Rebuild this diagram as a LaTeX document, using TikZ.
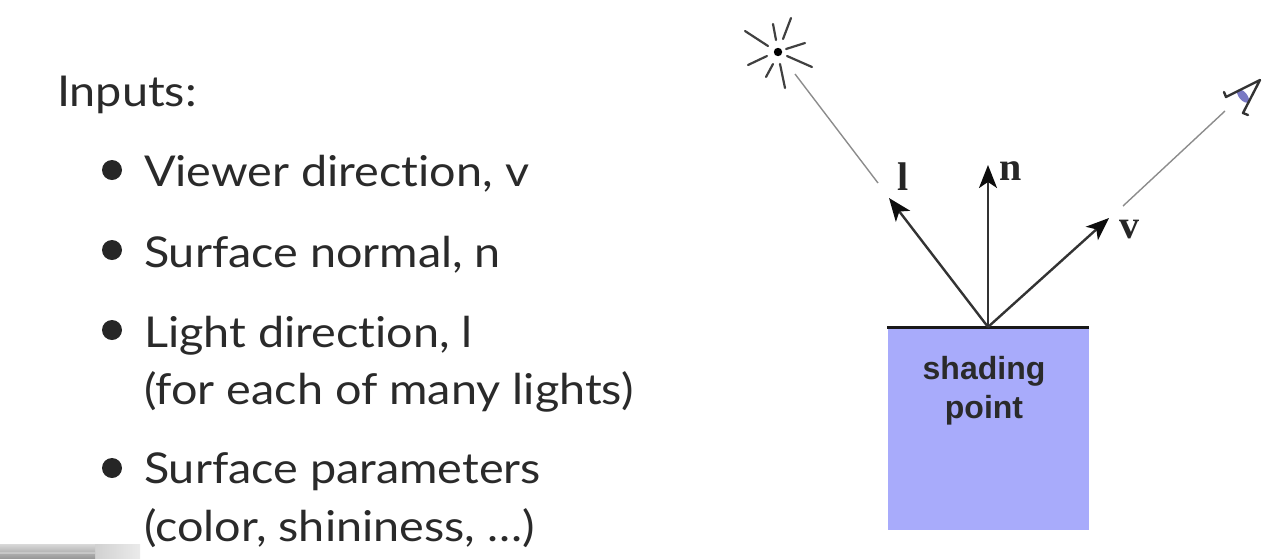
\documentclass[tikz,border=0pt]{standalone}
\usepackage{fontspec}
\setmainfont[FakeStretch=1.1,Ligatures=NoCommon]{Lato}
\newfontfamily\diagfont{Liberation Sans}
\newfontfamily\labfont{Liberation Serif}
\usetikzlibrary{arrows.meta}
\definecolor{boxblue}{HTML}{A8ABFB}
\definecolor{txt}{HTML}{2A2A2A}
\tikzset{
 x=1pt,y=-1pt,
 line/.style={anchor=base west,inner sep=0pt,outer sep=0pt,text=txt,font=\fontsize{42.5}{42}\selectfont},
 bul/.style={circle,fill=black!85,inner sep=0pt,minimum size=20pt},
 vec/.style={draw=black!80,line width=2.4pt,-{Stealth[length=23pt,width=18pt,inset=6pt,color=black!95]}},
 thin gray/.style={draw=black!45,line width=1.4pt},
 ray/.style={draw=black!75,line width=2.2pt,line cap=round},
 lab/.style={font=\fontsize{40}{40}\labfont\bfseries\selectfont,inner sep=0pt,text=black!85},
}
\begin{document}
\begin{tikzpicture}
\useasboundingbox (0,0) rectangle (1279,558);
% corner artefact
\shade[left color=black!18,right color=black!8] (95,544) rectangle (140,558);
\shade[top color=black!15,bottom color=black!40] (0,544) rectangle (95,558);
\fill[black!22] (0,552) rectangle (95,554);
% text
\node[line] (t0) at (57,106) {Inputs:};
\node[bul] (b1) at (112,170) {};
\node[line] (t1) at (144,186) {Viewer direction, v};
\node[bul] (b2) at (112,250) {};
\node[line] (t2) at (144,267) {Surface normal, n};
\node[bul] (b3) at (112,330) {};
\node[line] (t3) at (144,347) {Light direction, l};
\node[line] (t3b) at (144,404) {(for each of many lights)};
\node[bul] (b4) at (112,468) {};
\node[line] (t4) at (144,483) {Surface parameters};
\node[line] (t4b) at (144,541) {(color, shininess, …)};
% box
\fill[boxblue] (888,328) rectangle (1089,530);
\node[inner sep=0pt,align=center,font=\fontsize{32}{39}\diagfont\bfseries\selectfont,text=txt] (sp) at (984,391) {shading\\point};
\coordinate (o) at (988,327);
\draw[draw=black!90,line width=3.2pt] (887,327.5) -- (1089,327.5);
\coordinate (le) at (889,198);
\coordinate (ne) at (988,165);
\coordinate (ve) at (1109,218);
\draw[vec] (o) -- (le);
\draw[vec] (o) -- (ne);
\draw[vec] (o) -- (ve);
\node[lab] (l) at (903,177) {l};
\node[lab] (n) at (1011,171) {n};
\node[lab] (v) at (1129,230) {v};
% gray rays
\coordinate (ls) at (795,74);
\coordinate (le2) at (878,183);
\coordinate (vs) at (1123,206);
\coordinate (ve2) at (1225,111);
\draw[thin gray] (ls) -- (le2);
\draw[thin gray] (vs) -- (ve2);
% sun
\fill[black] (778,52) circle (4.2pt);
\foreach \a/\b/\c/\d in {745/31/768/46, 773/24/776/40, 791/18/783/39, 786/49/805/43, 787/56/812/67, 780/64/785/88, 773/64/766/77, 748/65/767/56}{
  \draw[ray] (\a,\b) -- (\c,\d);
}
% eye
\fill[blue!55!black!70,opacity=.75,rotate around={-50:(1243,96)}] (1243,96) ellipse (8pt and 4pt);
\draw[draw=black!80,line width=2.4pt,line join=round,line cap=round] (1224,92) -- (1226,97) -- (1260,80) -- (1243,113) -- (1248,115);
\end{tikzpicture}
\end{document}
